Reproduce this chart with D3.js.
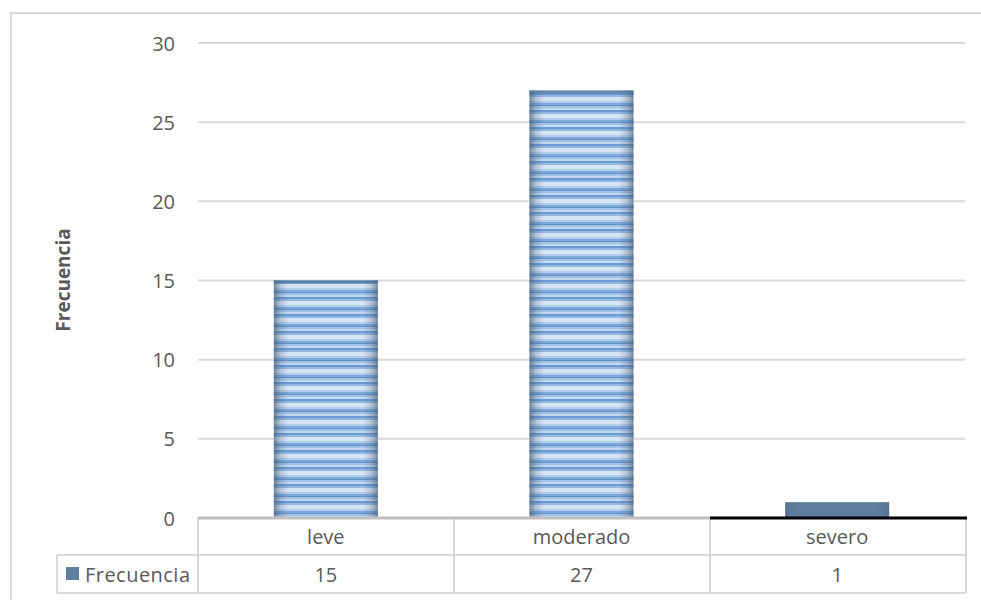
<!DOCTYPE html>
<html>
<head>
<meta charset="utf-8">
<script src="https://cdn.jsdelivr.net/npm/d3@7/dist/d3.min.js"></script>
<style>
  html, body { margin: 0; padding: 0; background: #fff; }
  svg text { font-family: "Open Sans", "Liberation Sans", sans-serif; fill: #595959; }
</style>
</head>
<body>
<svg id="chart" width="981" height="600"></svg>
<script>
// Chart data
const categories = ["leve", "moderado", "severo"];
const frecuencia = [15, 27, 1];
const yTicks = [0, 5, 10, 15, 20, 25, 30];
const seriesName = "Frecuencia";
const axisTitle = "Frecuencia";

const svg = d3.select("#chart");
const plotBottom = 518;
const fontSize = 20;

const x = d3.scaleBand().domain(categories).range([198, 965]).paddingInner(0.593).paddingOuter(0.2965);
const xCells = d3.scaleBand().domain(categories).range([198, 965]);
const y = d3.scaleLinear().domain([0, 30]).range([plotBottom, 43]);

// Outer frame
svg.append("rect").attr("x", 11).attr("y", 13).attr("width", 990).attr("height", 620)
  .attr("fill", "none").attr("stroke", "#d9d9d9").attr("stroke-width", 2);

// Striped bar fill
const defs = svg.append("defs");
const stripes = defs.append("pattern").attr("id", "stripes")
  .attr("patternUnits", "userSpaceOnUse").attr("width", 10).attr("height", 17)
  .attr("y", plotBottom);
const stripeBands = [
  [0, 2, "#6b9bd2"], [2, 2, "#93b8e3"], [4, 4, "#d6e5f5"], [8, 2, "#b3cdec"],
  [10, 2, "#7ea9da"], [12, 1, "#6292cc"], [13, 2, "#a4c3e8"], [15, 2, "#c3d8f0"]
];
stripeBands.forEach(([yy, h, c]) => {
  stripes.append("rect").attr("x", 0).attr("y", yy).attr("width", 10).attr("height", h).attr("fill", c);
});
const edge = defs.append("linearGradient").attr("id", "edgeShade").attr("x1", 0).attr("x2", 1);
[[0, 0.65], [0.06, 0.25], [0.14, 0], [0.86, 0], [0.94, 0.25], [1, 0.65]].forEach(([o, a]) => {
  edge.append("stop").attr("offset", o).attr("stop-color", "#41586f").attr("stop-opacity", a);
});

// Grid lines
svg.append("g").selectAll("line").data(yTicks.filter(t => t > 0)).join("line")
  .attr("x1", 198).attr("x2", 965)
  .attr("y1", d => y(d)).attr("y2", d => y(d))
  .attr("stroke", "#d9d9d9").attr("stroke-width", 2);

// Y axis tick labels
const yAxis = d3.axisLeft(y).tickValues(yTicks).tickSize(0).tickPadding(0);
const gy = svg.append("g").attr("transform", "translate(175,0)").call(yAxis);
gy.select(".domain").remove();
gy.selectAll("text").attr("font-size", fontSize).attr("dy", "0.35em")
  .style("font-family", '"Open Sans", "Liberation Sans", sans-serif').attr("fill", "#595959");

// Axis title
svg.append("text").attr("transform", "translate(70,280) rotate(-90)")
  .attr("text-anchor", "middle").attr("font-size", 19).attr("font-weight", "bold")
  .text(axisTitle);

// Bars
const bars = svg.append("g");
categories.forEach((c, i) => {
  const v = frecuencia[i];
  const bx = x(c), bw = x.bandwidth(), by = y(v), bh = plotBottom - y(v);
  if (v >= 5) {
    bars.append("rect").attr("x", bx).attr("y", by).attr("width", bw).attr("height", bh).attr("fill", "url(#stripes)");
    bars.append("rect").attr("x", bx).attr("y", by).attr("width", bw).attr("height", bh).attr("fill", "url(#edgeShade)");
    bars.append("rect").attr("x", bx).attr("y", by).attr("width", bw).attr("height", 3).attr("fill", "#4f7399").attr("opacity", 0.8);
  } else {
    bars.append("rect").attr("x", bx).attr("y", by).attr("width", bw).attr("height", bh).attr("fill", "#5f7fa0");
    bars.append("rect").attr("x", bx).attr("y", by).attr("width", bw).attr("height", bh).attr("fill", "url(#edgeShade)").attr("opacity", 0.5);
  }
});

// Data table
const rowTop = plotBottom, rowMid = 555, rowBot = 593;
const tbl = svg.append("g").attr("stroke", "#d9d9d9").attr("stroke-width", 2);
tbl.append("line").attr("x1", 57).attr("x2", 966).attr("y1", rowMid).attr("y2", rowMid);
tbl.append("line").attr("x1", 57).attr("x2", 966).attr("y1", rowBot).attr("y2", rowBot);
tbl.append("line").attr("x1", 57).attr("x2", 57).attr("y1", rowMid).attr("y2", rowBot);
[198, 454, 710, 966].forEach(xx => {
  tbl.append("line").attr("x1", xx).attr("x2", xx).attr("y1", rowTop).attr("y2", rowBot);
});

// Category axis line
svg.append("line").attr("x1", 198).attr("x2", 710).attr("y1", plotBottom).attr("y2", plotBottom)
  .attr("stroke", "#bfbfbf").attr("stroke-width", 3);
svg.append("line").attr("x1", 710).attr("x2", 967).attr("y1", plotBottom).attr("y2", plotBottom)
  .attr("stroke", "#000").attr("stroke-width", 3);

// Category labels and values
categories.forEach((c, i) => {
  const cx = xCells(c) + xCells.bandwidth() / 2;
  svg.append("text").attr("x", cx).attr("y", 537).attr("dy", "0.35em").attr("text-anchor", "middle")
    .attr("font-size", fontSize).text(c);
  svg.append("text").attr("x", cx).attr("y", 575).attr("dy", "0.35em").attr("text-anchor", "middle")
    .attr("font-size", fontSize).text(frecuencia[i]);
});

// Legend key in the table
svg.append("rect").attr("x", 66).attr("y", 567).attr("width", 13).attr("height", 13).attr("fill", "#5f7fa0");
svg.append("text").attr("x", 85).attr("y", 575).attr("dy", "0.35em").attr("font-size", fontSize)
  .attr("textLength", 105).text(seriesName);
</script>
</body>
</html>
